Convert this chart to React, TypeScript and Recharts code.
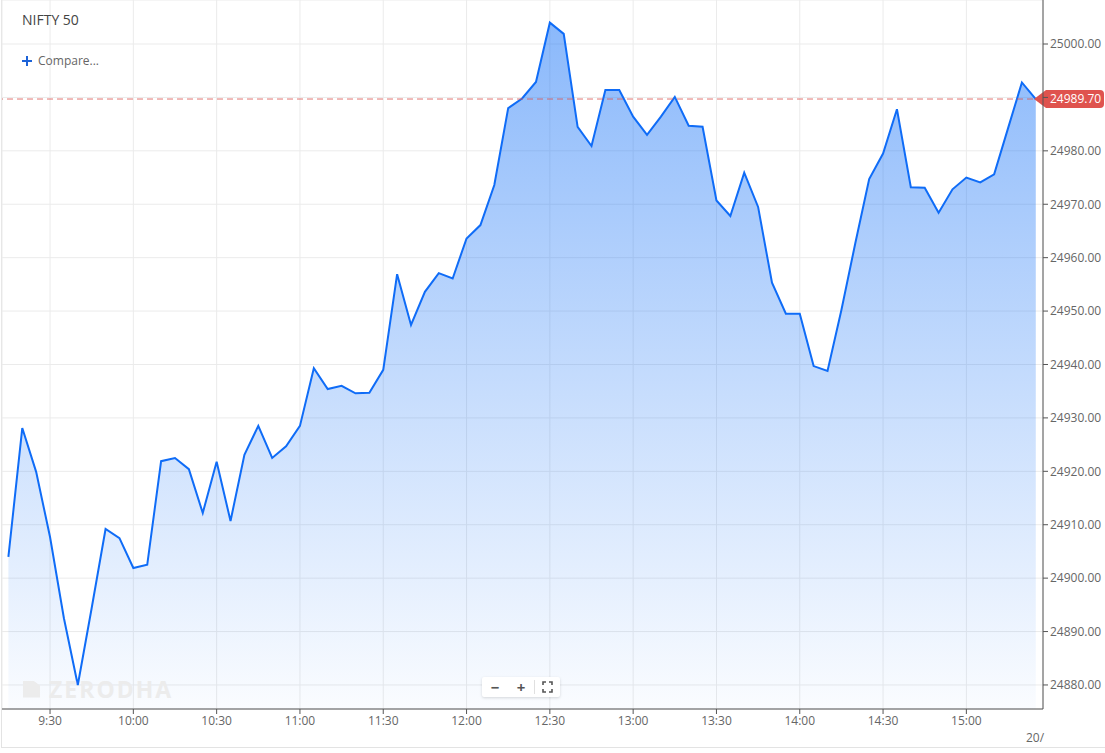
import { AreaChart, Area, XAxis, YAxis, CartesianGrid, ReferenceLine } from 'recharts';

const times = [
  '9:15', '9:20', '9:25', '9:30', '9:35', '9:40', '9:45', '9:50', '9:55',
  '10:00', '10:05', '10:10', '10:15', '10:20', '10:25', '10:30', '10:35', '10:40', '10:45', '10:50', '10:55',
  '11:00', '11:05', '11:10', '11:15', '11:20', '11:25', '11:30', '11:35', '11:40', '11:45', '11:50', '11:55',
  '12:00', '12:05', '12:10', '12:15', '12:20', '12:25', '12:30', '12:35', '12:40', '12:45', '12:50', '12:55',
  '13:00', '13:05', '13:10', '13:15', '13:20', '13:25', '13:30', '13:35', '13:40', '13:45', '13:50', '13:55',
  '14:00', '14:05', '14:10', '14:15', '14:20', '14:25', '14:30', '14:35', '14:40', '14:45', '14:50', '14:55',
  '15:00', '15:05', '15:10', '15:15', '15:20', '15:25',
];

const prices = [
  24904.0, 24928.1, 24919.9, 24907.7, 24892.5, 24880.0, 24894.4, 24909.2, 24907.5,
  24901.9, 24902.5, 24921.9, 24922.5, 24920.4, 24912.2, 24921.8, 24910.7, 24923.1, 24928.5, 24922.5, 24924.7,
  24928.5, 24939.3, 24935.4, 24936.0, 24934.6, 24934.7, 24939.0, 24956.9, 24947.4, 24953.6, 24957.1, 24956.1,
  24963.6, 24966.1, 24973.6, 24988.0, 24989.8, 24992.9, 25004.0, 25001.9, 24984.5, 24980.9, 24991.4, 24991.4,
  24986.4, 24983.0, 24986.4, 24990.1, 24984.7, 24984.5, 24970.7, 24967.8, 24975.9, 24969.5, 24955.3, 24949.5,
  24949.5, 24939.7, 24938.8, 24950.2, 24962.7, 24974.7, 24979.5, 24987.8, 24973.2, 24973.1, 24968.4, 24972.8,
  24975.0, 24974.1, 24975.6, 24984.2, 24992.8, 24989.7,
];

const lastPrice = 24989.7;
const xTicks = ['9:30', '10:00', '10:30', '11:00', '11:30', '12:00', '12:30', '13:00', '13:30', '14:00', '14:30', '15:00'];
const yTicks = [24880, 24890, 24900, 24910, 24920, 24930, 24940, 24950, 24960, 24970, 24980, 24990, 25000];

const toMin = (s: string) => {
  const [h, m] = s.split(':').map(Number);
  return h * 60 + m;
};
const fmtTime = (v: number) => `${Math.floor(v / 60)}:${String(v % 60).padStart(2, '0')}`;

const data = times.map((t, i) => ({ t: toMin(t), price: prices[i] }));

// the 24990 label sits under the last-price tag, so it is not drawn
const fmtPrice = (v: number) => (Math.abs(v - lastPrice) < 5 ? '' : v.toFixed(2));

const PriceTag = (props: any) => {
  const vb = props.viewBox || {};
  const tip = vb.x + vb.width - 9;
  const y = vb.y;
  const d = `M${tip},${y} L${tip + 12},${y - 9} L${tip + 66},${y - 9} Q${tip + 70},${y - 9} ${tip + 70},${y - 5} L${tip + 70},${y + 5} Q${tip + 70},${y + 9} ${tip + 66},${y + 9} L${tip + 12},${y + 9} Z`;
  return (
    <g>
      <path d={d} fill="#df534e" />
      <text x={tip + 16} y={y + 4} fill="#fff" fontSize={12} fontFamily="Open Sans">
        {lastPrice.toFixed(2)}
      </text>
    </g>
  );
};

export default function App() {
  return (
    <div style={{ position: 'absolute', left: 0, top: 0, width: 1105, height: 753, background: '#fff', fontFamily: '"Open Sans", sans-serif', overflow: 'hidden' }}>
      <div style={{ position: 'absolute', left: 1, top: 0, width: 1104, height: 748, borderLeft: '1px solid #e3e3e3', borderBottom: '1px solid #e3e3e3', boxSizing: 'border-box' }} />
      <AreaChart width={1105} height={753} data={data} margin={{ top: 0, right: 0, left: 2, bottom: 0 }} style={{ fontFamily: '"Open Sans", sans-serif' }}>
        <defs>
          <linearGradient id="fillBlue" x1="0" y1="0" x2="0" y2="1">
            <stop offset="0%" stopColor="#1672f7" stopOpacity={0.5} />
            <stop offset="100%" stopColor="#1672f7" stopOpacity={0.02} />
          </linearGradient>
        </defs>
        <CartesianGrid stroke="#ebebeb" />
        <XAxis
          dataKey="t"
          type="number"
          domain={[552.7, 927.6]}
          allowDataOverflow
          ticks={xTicks.map(toMin)}
          tickFormatter={fmtTime}
          height={44}
          stroke="#555"
          tickSize={5}
          tick={{ fill: '#666', fontSize: 12 }}
        />
        <YAxis
          orientation="right"
          domain={[24875.5, 25008.24]}
          allowDataOverflow
          ticks={yTicks}
          tickFormatter={fmtPrice}
          width={62}
          stroke="#555"
          tickSize={5}
          tick={{ fill: '#666', fontSize: 12, textAnchor: 'start' }}
        />
        <Area
          type="linear"
          dataKey="price"
          stroke="#0f6cf7"
          strokeWidth={2}
          fill="url(#fillBlue)"
          fillOpacity={1}
          baseValue="dataMin"
          dot={false}
          activeDot={false}
          isAnimationActive={false}
        />
        <ReferenceLine y={lastPrice} stroke="#d9534f" strokeOpacity={0.8} strokeDasharray="6 4" label={<PriceTag />} />
      </AreaChart>
      <div style={{ position: 'absolute', left: 22, top: 10, fontSize: 14, color: '#444' }}>NIFTY 50</div>
      <div style={{ position: 'absolute', left: 22, top: 52, fontSize: 12, color: '#666', display: 'flex', alignItems: 'center' }}>
        <svg width={10} height={10} viewBox="0 0 10 10" style={{ marginRight: 6 }}>
          <path d="M5,0 V10 M0,5 H10" stroke="#1d63d8" strokeWidth={2} />
        </svg>
        Compare...
      </div>
      <div style={{ position: 'absolute', left: 23, top: 673, display: 'flex', alignItems: 'center', color: '#ececec', fontSize: 23, fontWeight: 700, letterSpacing: 2 }}>
        <div style={{ width: 17, height: 17, background: '#ececec', marginRight: 9, clipPath: 'polygon(0 0, 60% 0, 100% 30%, 100% 100%, 0 100%)' }} />
        ZERODHA
      </div>
      <div style={{ position: 'absolute', left: 482, top: 677, width: 78, height: 20, background: '#fff', boxShadow: '0 1px 3px rgba(0,0,0,0.15)', borderRadius: 2, display: 'flex', alignItems: 'center', fontSize: 15, fontWeight: 700, color: '#555' }}>
        <span style={{ width: 26, textAlign: 'center' }}>−</span>
        <span style={{ width: 26, textAlign: 'center' }}>+</span>
        <span style={{ width: 1, height: 14, background: '#e0e0e0' }} />
        <svg width={25} height={12} viewBox="0 0 25 12">
          <path d="M8,4 V1 H11 M14,1 H17 V4 M17,8 V11 H14 M11,11 H8 V8" stroke="#555" strokeWidth={1.6} fill="none" />
        </svg>
      </div>
      <div style={{ position: 'absolute', left: 1026, top: 729, fontSize: 12, color: '#666' }}>20/</div>
    </div>
  );
}
